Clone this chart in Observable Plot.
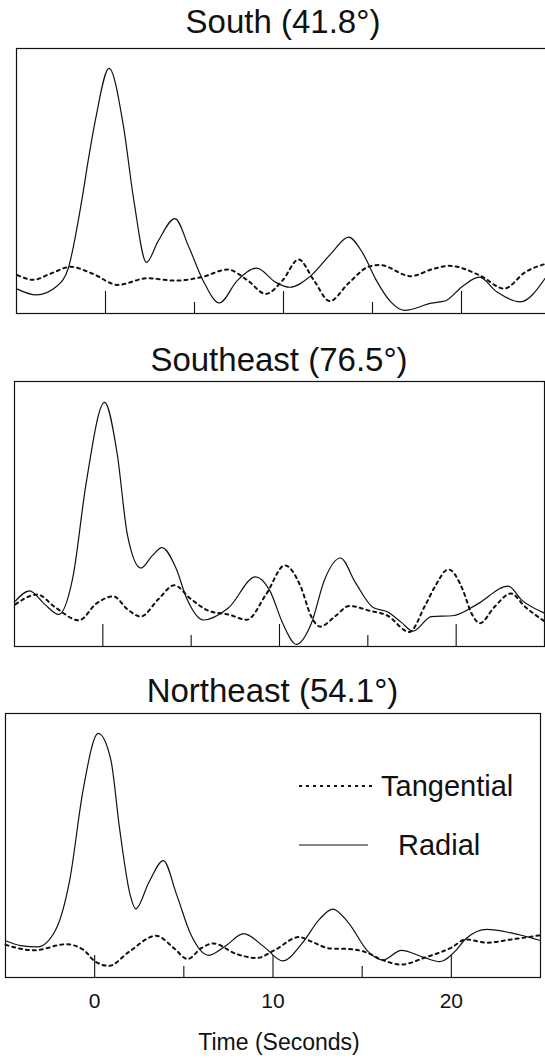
<!DOCTYPE html>
<html>
<head>
<meta charset="utf-8">
<script src="https://cdn.jsdelivr.net/npm/d3@7"></script>
<script src="https://cdn.jsdelivr.net/npm/@observablehq/plot@0.6"></script>
<style>
  html, body { margin: 0; padding: 0; background: #fff; }
  body { width: 545px; height: 1060px; overflow: hidden; position: relative;
         font-family: "Liberation Sans", Arial, sans-serif; color: #111; }
  .panel { position: absolute; left: 0; width: 640px; }
  .panel svg { display: block; max-width: none; }
  #overlay { position: absolute; left: 0; top: 0; pointer-events: none; }
</style>
</head>
<body>
<script>
// Station panels: particle-motion amplitude (arbitrary units, 0–100) vs time in seconds.
const panelTitles = ["South (41.8°)", "Southeast (76.5°)", "Northeast (54.1°)"];
const seriesNames = ["Tangential", "Radial"];
const axisTitle = "Time (Seconds)";
const timeDomain = [-5, 25];
const labelTicks = [0, 10, 20];
const majorTicks = [0, 10, 20];
const minorTicks = [5, 15];

// [time, amplitude]
const southRadial = [[-4.95,9.2],[-3.9,7.0],[-2.7,10.5],[-2.1,16.9],[-1.35,42],[-0.95,58.6],[-0.55,73.6],[0.2,92.5],[1.0,71],[1.6,42.3],[2.3,19.3],[2.95,27.2],[3.9,35.8],[4.7,24.8],[5.5,12.2],[6.4,4.0],[7.4,12.4],[8.5,17.1],[9.55,11.8],[10.35,9.9],[11.5,14.0],[12.7,22.8],[13.65,28.8],[14.45,22.8],[15.2,12.7],[16.0,4.6],[16.8,1.2],[18.3,3.9],[19.1,4.8],[20.1,10.5],[21.0,13.7],[22.0,8.1],[23.3,4.4],[24.7,13.3]];
const southTangential = [[-4.95,14.5],[-4.05,12.7],[-3.1,15],[-1.95,17.6],[-0.75,15.1],[0.7,10.8],[2.35,13.3],[3.9,12.4],[5.45,13.8],[6.85,16.6],[8.0,12.4],[9.0,7.4],[9.95,12.5],[10.85,20.4],[11.7,12.6],[12.6,4.7],[13.65,11.4],[14.8,17.7],[15.4,18.3],[17.15,14.1],[18.35,16.7],[19.3,18],[21.05,14.3],[22.4,9.4],[23.6,15.7],[24.7,18.7]];

const southeastRadial = [[-4.95,17.1],[-4.15,21],[-3.3,16],[-2.5,12.1],[-1.7,26],[-0.95,61.4],[0.1,92.1],[0.8,73.3],[1.4,41.8],[2.15,29.6],[2.8,34.3],[3.35,37.3],[4.15,29.4],[4.75,18.1],[5.7,10],[7.1,14.5],[8.65,26.3],[9.45,21.1],[10.2,8.5],[10.95,0.8],[11.8,8.7],[12.55,25.2],[13.45,33.4],[14.3,24.1],[15.3,14.7],[16.1,13.1],[16.9,9.1],[17.55,5.8],[18.6,11.3],[19.8,11.6],[21.2,16],[22.95,22.8],[23.7,17.6],[25,12.6]];
const southeastTangential = [[-4.95,15.9],[-3.7,19.6],[-2.7,14.8],[-1.35,9.9],[-0.35,16.3],[0.6,18.9],[1.4,14],[2.15,11.3],[3.15,17.9],[4.05,23.1],[4.95,18.1],[6.1,13.2],[7.1,12.1],[8.15,10.1],[9.25,19.8],[10.3,30.6],[11.2,22.6],[11.8,11.3],[12.3,7.5],[13.15,11.4],[13.95,15.3],[15.1,13.5],[16.1,11.7],[17.35,5.5],[18.25,15.6],[18.85,23.2],[19.55,29.1],[20.4,21],[20.8,13.5],[21.35,8.8],[22.15,14.8],[23.1,20],[23.9,15],[25,9.5]];

const northeastRadial = [[-5,13.9],[-4.15,12.1],[-3.2,11.6],[-2.2,17.9],[-1.4,36.9],[-0.65,71],[0.2,92.5],[0.9,82.7],[1.4,56.3],[2.0,31],[2.3,26],[3.05,36.2],[3.85,44.3],[4.6,31.3],[5.4,16.2],[6.4,8.4],[7.35,12],[8.35,16.6],[9.5,11.6],[10.55,6.3],[11.65,13.1],[12.6,22],[13.35,25.9],[14.2,21],[15.35,9.7],[16.15,6.6],[17.2,10.3],[18.5,7.5],[19.35,6],[20.25,10.2],[20.8,14.6],[22,18.2],[23.35,16.9],[25,14]];
const northeastTangential = [[-5,12.4],[-3.4,10.3],[-1.6,12.6],[-0.65,10.6],[0,6.2],[0.8,4.4],[1.9,9.6],[3.45,15.8],[4.45,11.1],[5.2,7],[6,11.2],[6.65,12.9],[7.95,8.9],[9.1,7.4],[10.1,10.4],[11.45,15.3],[12.25,13.3],[13.2,11],[14.2,10.8],[15.15,9.7],[16.15,6.6],[17.2,4.9],[18.5,7.5],[20.05,11.5],[20.8,14.4],[22,13.2],[23.35,14.4],[25,16]];

// Page layout (pixels): plot frame edges for each panel
const frames = [
  {left: 16, right: 550, top: 48,  bottom: 313, titleY: 33},
  {left: 14, right: 544, top: 381, bottom: 646, titleY: 371},
  {left: 5,  right: 540, top: 713, bottom: 977, titleY: 702}
];
const ink = "#111";
const dash = "3,4";
const FONT = '"Liberation Sans", Arial, sans-serif';

const panels = [
  {radial: southRadial, tangential: southTangential},
  {radial: southeastRadial, tangential: southeastTangential},
  {radial: northeastRadial, tangential: northeastTangential}
];

panels.forEach((p, i) => {
  const f = frames[i];
  const last = i === panels.length - 1;
  const h = f.bottom - f.top;
  const mt = 5, mb = last ? 40 : 5;
  const units = px => px / h * 100; // tick length in amplitude units

  const svg = Plot.plot({
    width: f.right + 10,
    height: h + mt + mb,
    marginLeft: f.left,
    marginRight: 10,
    marginTop: mt,
    marginBottom: mb,
    x: last
      ? {domain: timeDomain, ticks: labelTicks, tickSize: 0, tickPadding: 16, label: null}
      : {domain: timeDomain, axis: null},
    y: {domain: [0, 100], axis: null},
    style: {fontFamily: FONT, fontSize: "21px", color: ink, background: "transparent", overflow: "visible"},
    marks: [
      Plot.frame({stroke: ink, strokeWidth: 1.2}),
      Plot.ruleX(majorTicks, {x: d => d, y1: 0, y2: units(22), stroke: ink, strokeWidth: 1.1}),
      Plot.ruleX(minorTicks, {x: d => d, y1: 0, y2: units(11), stroke: ink, strokeWidth: 1.1}),
      Plot.line(p.tangential, {x: d => d[0], y: d => d[1], curve: "monotone-x",
        stroke: ink, strokeWidth: 2, strokeDasharray: dash}),
      Plot.line(p.radial, {x: d => d[0], y: d => d[1], curve: "monotone-x",
        stroke: ink, strokeWidth: 1.2})
    ]
  });

  const holder = document.createElement("div");
  holder.className = "panel";
  holder.style.top = (f.top - mt) + "px";
  holder.appendChild(svg);
  document.body.appendChild(holder);
});

// Titles, legend and axis title
const overlay = d3.select(document.body).append("svg")
  .attr("id", "overlay").attr("width", 545).attr("height", 1060)
  .style("font-family", FONT).attr("fill", ink);

frames.forEach((f, i) => {
  overlay.append("text")
    .attr("x", (f.left + f.right) / 2).attr("y", f.titleY)
    .attr("text-anchor", "middle").attr("font-size", 33)
    .text(panelTitles[i]);
});

const legend = overlay.append("g");
legend.append("line").attr("x1", 299).attr("x2", 375).attr("y1", 786).attr("y2", 786)
  .attr("stroke", ink).attr("stroke-width", 2).attr("stroke-dasharray", dash);
legend.append("text").attr("x", 381).attr("y", 796).attr("font-size", 29).text(seriesNames[0]);
legend.append("line").attr("x1", 299).attr("x2", 368).attr("y1", 845).attr("y2", 845)
  .attr("stroke", ink).attr("stroke-width", 1.2);
legend.append("text").attr("x", 398).attr("y", 855).attr("font-size", 29).text(seriesNames[1]);

overlay.append("text").attr("x", 279).attr("y", 1050).attr("text-anchor", "middle")
  .attr("font-size", 23).text(axisTitle);
</script>
</body>
</html>
